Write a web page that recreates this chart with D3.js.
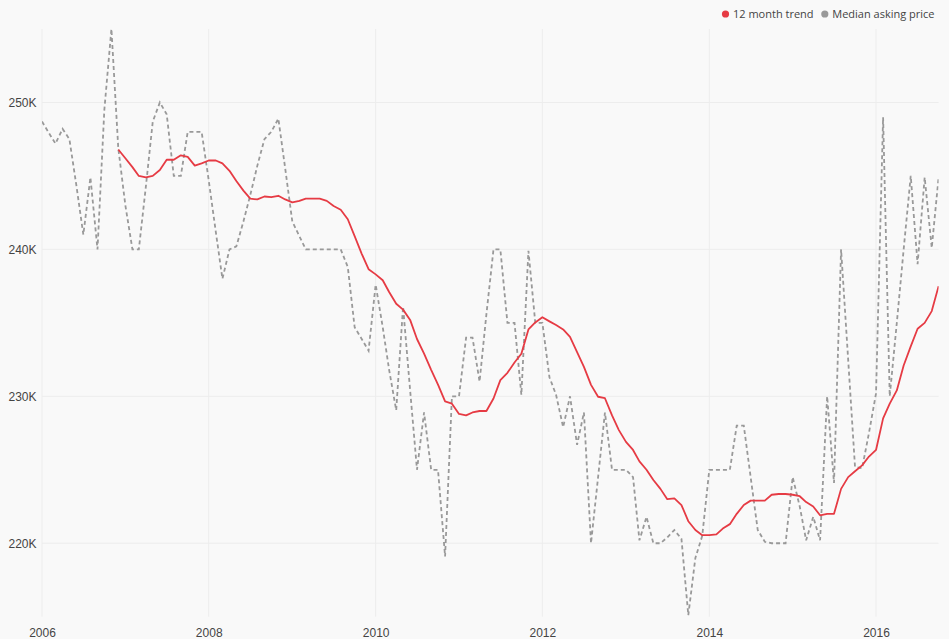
<!DOCTYPE html>
<html>
<head>
<meta charset="utf-8">
<script src="https://cdn.jsdelivr.net/npm/d3@7"></script>
<style>
  html, body { margin: 0; padding: 0; background: #f9f9f9; }
  svg { display: block; font-family: "Open Sans", sans-serif; }
</style>
</head>
<body>
<svg id="chart" width="949" height="639"></svg>
<script>
// Monthly series starting January 2006
const startMonth = "2006-01";
const medianAskingPrice = [
  248700, 247900, 247200, 248200, 247500, 244300, 241000, 244900, 240000, 249500,
  255000, 246900, 243000, 240000, 240000, 244300, 248700, 250000, 249200, 245000,
  245000, 248000, 248000, 248000, 244700, 241200, 238000, 240000, 240200, 241900,
  243700, 245700, 247500, 248000, 248900, 245500, 241900, 240900, 240000, 240000,
  240000, 240000, 240000, 240000, 238800, 234700, 233900, 233100, 237600, 234700,
  231800, 229050, 236100, 230400, 225000, 228900, 225000, 225000, 219100, 230000,
  230000, 234000, 234000, 231000, 235600, 240000, 240000, 235000, 235000, 230100,
  239900, 235000, 235000, 231300, 230100, 227900, 230000, 226700, 228900, 220000,
  224500, 228900, 225000, 225000, 225000, 224500, 220200, 221800, 220000, 220000,
  220400, 220900, 220300, 215100, 219000, 220500, 225000, 225000, 225000, 225000,
  228000, 228000, 224500, 220900, 220100, 220000, 220000, 220000, 224500, 222500,
  220200, 221800, 220200, 230000, 224100, 240000, 232500, 225200, 225100, 227500,
  230200, 249000, 230000, 235000, 240000, 245000, 239000, 244900, 240100, 244900
];
// 12 month trend starts December 2006 (month index 11)
const trendStartIndex = 11;
const trend12Month = [
  246800, 246200, 245600, 245000, 244900, 245000, 245400, 246100, 246100, 246400,
  246300, 245700, 245850, 246050, 246050, 245850, 245350, 244650, 244000, 243450,
  243400, 243600, 243550, 243650, 243400, 243200, 243300, 243450, 243450, 243450,
  243300, 242950, 242700, 242050, 240900, 239700, 238650, 238300, 237900, 237100,
  236300, 235900, 235200, 233900, 232900, 231800, 230800, 229650, 229500, 228800,
  228700, 228900, 229000, 229000, 229850, 231100, 231600, 232300, 232900, 234550,
  235030, 235380, 235100, 234850, 234550, 234050, 233000, 232000, 230780, 229970,
  229870, 228700, 227700, 226900, 226350, 225570, 225000, 224300, 223700, 223000,
  223060, 222600, 221500, 220900, 220550, 220550, 220600, 221000, 221300, 222000,
  222600, 222900, 222900, 222900, 223300, 223350, 223350, 223300, 223200, 222800,
  222500, 221900, 222000, 222000, 223700, 224500, 224900, 225300, 225900, 226350,
  228500, 229500, 230400, 232100, 233400, 234600, 235000, 235800, 237500
];
const yTicks = [220000, 230000, 240000, 250000];
const yDomain = [215000, 255000];
const legendLabels = ["12 month trend", "Median asking price"];
const colors = { trend: "#e63b44", median: "#999999" };

const svg = d3.select("#chart");
const margin = { left: 42, right: 10.4, top: 29, bottom: 22.3 };
const W = 949, H = 639;

const parseMonth = d3.timeParse("%Y-%m");
const start = parseMonth(startMonth);
const medianData = medianAskingPrice.map((v, i) => ({ date: d3.timeMonth.offset(start, i), value: v }));
const trendData = trend12Month.map((v, i) => ({ date: d3.timeMonth.offset(start, i + trendStartIndex), value: v }));

const x = d3.scaleTime()
  .domain([start, medianData[medianData.length - 1].date])
  .range([margin.left, W - margin.right]);
const y = d3.scaleLinear().domain(yDomain).range([H - margin.bottom, margin.top]);

// grid
const xTickDates = d3.timeYear.every(2).range(start, x.domain()[1]);
svg.append("g").selectAll("line").data(xTickDates).join("line")
  .attr("x1", d => x(d)).attr("x2", d => x(d))
  .attr("y1", margin.top).attr("y2", H - margin.bottom)
  .attr("stroke", "#ededed").attr("stroke-width", 1);
svg.append("g").selectAll("line").data(yTicks).join("line")
  .attr("x1", margin.left).attr("x2", W - margin.right)
  .attr("y1", d => y(d)).attr("y2", d => y(d))
  .attr("stroke", "#ededed").attr("stroke-width", 1);

// axes
const xAxis = d3.axisBottom(x).tickValues(xTickDates).tickFormat(d3.timeFormat("%Y")).tickSize(0).tickPadding(12);
const gx = svg.append("g").attr("transform", `translate(0,${H - margin.bottom})`).call(xAxis);
gx.select(".domain").remove();
gx.selectAll("text").attr("fill", "#444").style("font-size", "12px");

const yAxis = d3.axisLeft(y).tickValues(yTicks).tickFormat(d => (d / 1000) + "K").tickSize(0).tickPadding(5.5);
const gy = svg.append("g").attr("transform", `translate(${margin.left},0)`).call(yAxis);
gy.select(".domain").remove();
gy.selectAll("text").attr("fill", "#444").style("font-size", "12px");

// clip
svg.append("clipPath").attr("id", "clip").append("rect")
  .attr("x", margin.left).attr("y", margin.top)
  .attr("width", W - margin.left - margin.right).attr("height", H - margin.top - margin.bottom);

const line = d3.line().x(d => x(d.date)).y(d => y(d.value));
const plot = svg.append("g").attr("clip-path", "url(#clip)");
plot.append("path").datum(medianData)
  .attr("d", line).attr("fill", "none")
  .attr("stroke", colors.median).attr("stroke-width", 1.8)
  .attr("stroke-dasharray", "4,3");
plot.append("path").datum(trendData)
  .attr("d", line).attr("fill", "none")
  .attr("stroke", colors.trend).attr("stroke-width", 1.8)
  .attr("stroke-linejoin", "round");

// legend
const legend = svg.append("g");
const items = [
  { label: legendLabels[0], color: colors.trend, cx: 725.5 },
  { label: legendLabels[1], color: colors.median, cx: 824.8 }
];
items.forEach(it => {
  legend.append("circle").attr("cx", it.cx).attr("cy", 14).attr("r", 3.6).attr("fill", it.color);
  legend.append("text").attr("x", it.cx + 7.5).attr("y", 18)
    .attr("fill", "#444").style("font-size", "11px").text(it.label);
});
</script>
</body>
</html>
